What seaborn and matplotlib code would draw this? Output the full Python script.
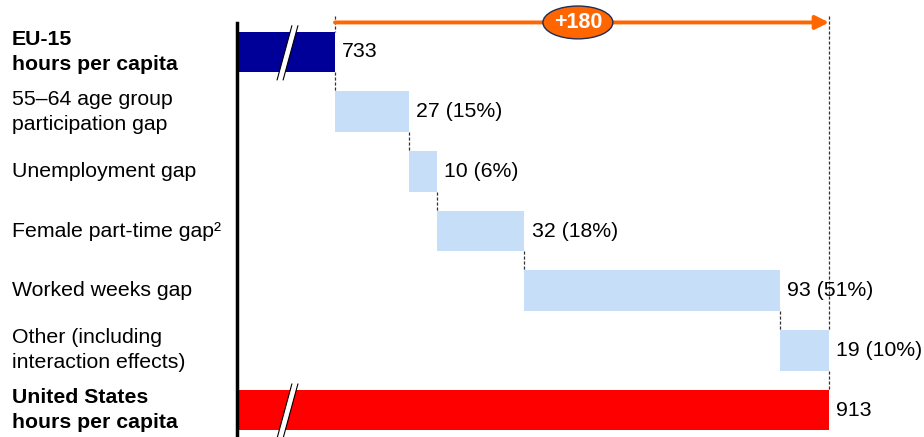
import numpy as np
import pandas as pd
import matplotlib
matplotlib.use("Agg")
import matplotlib.pyplot as plt
import matplotlib.transforms as mtrans
from matplotlib.patches import Ellipse, Polygon
import seaborn as sns

# %% data
labels = ["EU-15\nhours per capita",
          "55\u201364 age group\nparticipation gap",
          "Unemployment gap",
          "Female part-time gap\u00b2",
          "Worked weeks gap",
          "Other (including\ninteraction effects)",
          "United States\nhours per capita"]
eu_total = 733
us_total = 913
gaps = [27, 10, 32, 93, 19]
gap_share = [15, 6, 18, 51, 10]
bold_rows = [0, 6]
colors = ["#000099"] + ["#C6DEF8"] * 5 + ["#FF0000"]

# waterfall starts / ends (last gap closes on the US total, rounding)
ends_gap = list(eu_total + np.cumsum(gaps))
ends_gap[-1] = us_total
starts_gap = [eu_total] + ends_gap[:-1]

df = pd.DataFrame({
    "label": labels,
    "start": [0] + starts_gap + [0],
    "end": [eu_total] + ends_gap + [us_total],
    "text": [str(eu_total)] + ["{} ({}%)".format(g, s) for g, s in zip(gaps, gap_share)] + [str(us_total)],
})

# %% plot
sns.set_style("white")
plt.rcParams["font.family"] = ["Liberation Sans", "DejaVu Sans"]
plt.rcParams["text.color"] = "black"

fig = plt.figure(figsize=(9.24, 4.37), dpi=100)
ax = fig.add_axes([237 / 924, 0, 687 / 924, 1])

bh = 0.68
sns.barplot(data=df, x="end", y="label", hue="label", palette=colors, legend=False,
            orient="h", width=bh, saturation=1, linewidth=0, ax=ax)
sns.barplot(data=df, x="start", y="label", color="white", orient="h",
            width=bh, saturation=1, linewidth=0, ax=ax)

ax.set_xlim(697.3, 947.6)
ax.set_ylim(6.45, -0.87)
ax.set_xlabel("")
ax.set_ylabel("")
ax.tick_params(left=False, bottom=False, labelleft=False, labelbottom=False)
for s in ["top", "right", "bottom"]:
    ax.spines[s].set_visible(False)
ax.spines["left"].set_color("black")
ax.spines["left"].set_linewidth(2.5)
ax.spines["left"].set_bounds(-0.49, 6.45)

# row labels
tr = mtrans.blended_transform_factory(ax.transAxes, ax.transData)
for i, lab in enumerate(labels):
    ax.text(-0.3275, i, lab, transform=tr, ha="left", va="center", fontsize=15.3,
            fontweight="bold" if i in bold_rows else "normal", linespacing=1.4)

# value labels
for i, row in df.iterrows():
    ax.text(row["end"] + 2.6, i, row["text"], ha="left", va="center", fontsize=15.3)

# connectors
dash = dict(color="#333333", lw=0.9, linestyle=(0, (2.5, 1.5)), zorder=0.5)
for i in range(len(df) - 1):
    x = df["end"].iloc[i]
    ax.plot([x, x], [i + bh / 2, i + 1 - bh / 2], **dash)
y_arrow = -0.494
ax.plot([eu_total, eu_total], [-0.6, -bh / 2], **dash)
ax.plot([us_total, us_total], [-0.6, 5 - bh / 2], **dash)

# +180 arrow and bubble
ax.annotate("", xy=(us_total, y_arrow), xytext=(eu_total, y_arrow),
            arrowprops=dict(arrowstyle="-|>", color="#FF6600", lw=2.8,
                            mutation_scale=20, shrinkA=0, shrinkB=0))
mid = (eu_total + us_total) / 2 - 1.5
ax.add_patch(Ellipse((mid, y_arrow), 25.5, 0.55, facecolor="#FF6600",
                     edgecolor="#1F2D5A", lw=1, zorder=5))
ax.text(mid, y_arrow, "+{}".format(us_total - eu_total), ha="center", va="center",
        color="white", fontsize=15.5, fontweight="bold", zorder=6)

# axis break marks on the total bars
for i in bold_rows:
    xb, xt, w = 711.9, 717.3, 2.2
    ax.add_patch(Polygon([(xb, i + 0.47), (xb + w, i + 0.47), (xt + w, i - 0.44), (xt, i - 0.44)],
                         closed=True, facecolor="white", edgecolor="none", zorder=3))
    ax.plot([xb, xt], [i + 0.47, i - 0.44], color="black", lw=0.8, zorder=4)
    ax.plot([xb + w, xt + w], [i + 0.47, i - 0.44], color="black", lw=0.8, zorder=4)

plt.savefig("out.png", dpi=100)
